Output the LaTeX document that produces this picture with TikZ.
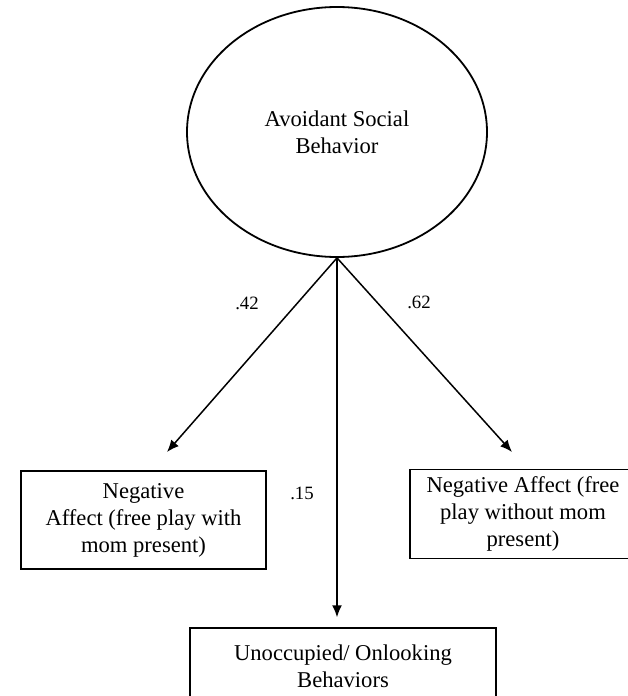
\documentclass[tikz,border=0pt]{standalone}
\usepackage{fontspec}
\setmainfont{Liberation Serif}
\usetikzlibrary{shapes.geometric,arrows.meta}
\begin{document}
\begin{tikzpicture}[x=0.5pt,y=-0.5pt,
    latente/.style={draw,ellipse,line width=0.9pt,inner sep=0pt,
        minimum width=150pt,minimum height=125pt,align=center,
        font=\fontsize{11.3}{13.5}\selectfont},
    medida/.style={draw,rectangle,line width=0.75pt,inner sep=0pt,
        align=center,font=\fontsize{11.3}{13.5}\selectfont},
    carga/.style={font=\fontsize{9.4}{11}\selectfont},
    seta/.style={-{Latex[length=6pt,width=5pt]},line width=0.75pt}]

    % Moldura da figura
    \useasboundingbox (0,0) rectangle (627,696);

    % Fator latente
    \node[latente] (ASB) at (337,132) {Avoidant Social\\Behavior};

    % Indicadores
    \node[medida,minimum width=122.5pt,minimum height=49pt]
        (NAC) at (143.5,520) {Negative\\Affect (free play with\\mom present)};
    \node[medida,minimum width=113pt,minimum height=44.5pt]
        (NAS) at (523,514) {Negative Affect (free\\play without mom\\present)};
    \node[medida,minimum width=153pt,minimum height=38.5pt]
        (UOB) at (343,666.5) {Unoccupied/ Onlooking\\Behaviors};

    % Pontas das setas
    \coordinate (PC) at (167,452);
    \coordinate (PS) at (512,452);

    % Cargas fatoriais
    \draw[seta] (ASB.south) -- (PC);
    \draw[seta] (ASB.south) -- (PS);
    \draw[seta,shorten >=5pt] (ASB.south) -- (ASB.south |- UOB.north);

    % Valores
    \node[carga] (c42) at (247,303) {.42};
    \node[carga] (c62) at (419,302) {.62};
    \node[carga] (c15) at (302,493) {.15};

\end{tikzpicture}
\end{document}
